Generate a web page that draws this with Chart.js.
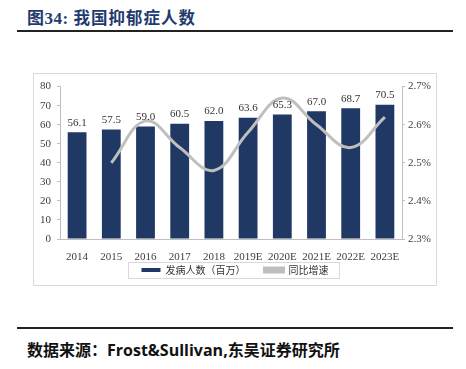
<!DOCTYPE html>
<html>
<head>
<meta charset="utf-8">
<script src="https://cdn.jsdelivr.net/npm/chart.js@4"></script>
<style>
  body { margin: 0; background: #fff; width: 466px; height: 369px; position: relative; overflow: hidden; }
  #title { position: absolute; left: 27px; top: 4px; font: bold 17px "Liberation Serif", "Noto Sans CJK SC", serif; color: #1f3a6e; letter-spacing: 0.5px; }
  #title .cn { font-family: "Noto Sans CJK SC", sans-serif; font-weight: bold; font-size: 16.5px; letter-spacing: 1px; }
  .rule { position: absolute; left: 17px; width: 436px; height: 2px; background: #222; }
  #frame { position: absolute; left: 33px; top: 73px; width: 404px; height: 213px; border: 1px solid #d9d9d9; box-sizing: border-box; }
  #source { position: absolute; left: 27px; top: 337px; font: bold 16px "Noto Sans CJK SC", sans-serif; color: #111; }
  #source .en { font-family: "Open Sans", "Liberation Sans", sans-serif; }
</style>
</head>
<body>
<div id="title">图34: <span class="cn">我国抑郁症人数</span></div>
<div class="rule" style="top:30px"></div>
<div id="frame"><canvas id="c" width="402" height="211"></canvas></div>
<div class="rule" style="top:327px"></div>
<div id="source">数据来源：<span class="en">Frost&amp;Sullivan,</span>东吴证券研究所</div>
<script>
// 我国抑郁症人数（百万）及同比增速
const YEARS = ["2014", "2015", "2016", "2017", "2018", "2019E", "2020E", "2021E", "2022E", "2023E"];
const PATIENTS = [56.1, 57.5, 59.0, 60.5, 62.0, 63.6, 65.3, 67.0, 68.7, 70.5];
const GROWTH = [null, 2.50, 2.61, 2.54, 2.48, 2.58, 2.67, 2.60, 2.54, 2.62];
const LEFT_TICKS = [0, 10, 20, 30, 40, 50, 60, 70, 80];
const RIGHT_TICKS = [2.3, 2.4, 2.5, 2.6, 2.7];

const NAVY = "#203864";
const GREY_LINE = "#bfbfbf";
const AXIS = "#bfbfbf";
const serif = "'Liberation Serif', 'Times New Roman', serif";

// value labels above bars (bar dataset is index 1)
const barLabels = {
  id: "barLabels",
  afterDatasetsDraw(chart) {
    const meta = chart.getDatasetMeta(1);
    const ctx = chart.ctx;
    ctx.save();
    ctx.font = "11px " + serif;
    ctx.fillStyle = "#333";
    ctx.textAlign = "center";
    ctx.textBaseline = "bottom";
    meta.data.forEach((bar, i) => {
      ctx.fillText(PATIENTS[i].toFixed(1), bar.x, bar.y - 4);
    });
    ctx.restore();
  },
};

// thin box round the legend
const legendBox = {
  id: "legendBox",
  afterDraw(chart) {
    const boxes = chart.legend.legendHitBoxes;
    if (!boxes || !boxes.length) return;
    const l = Math.min(...boxes.map((b) => b.left)) - 14;
    const r = Math.max(...boxes.map((b) => b.left + b.width)) + 10;
    const t = boxes[0].top - 3;
    const h = boxes[0].height + 6;
    const ctx = chart.ctx;
    ctx.save();
    ctx.strokeStyle = "#d9d9d9";
    ctx.lineWidth = 1;
    ctx.strokeRect(Math.round(l) + 0.5, Math.round(t) + 0.5, Math.round(r - l), Math.round(h));
    ctx.restore();
  },
};

new Chart(document.getElementById("c"), {
  data: {
    labels: YEARS,
    datasets: [
      {
        type: "line",
        label: "同比增速",
        data: GROWTH,
        yAxisID: "y1",
        borderColor: GREY_LINE,
        backgroundColor: GREY_LINE,
        borderWidth: 3,
        pointRadius: 0,
        tension: 0.4,
        order: 0,
      },
      {
        type: "bar",
        label: "发病人数（百万）",
        data: PATIENTS,
        yAxisID: "y",
        backgroundColor: NAVY,
        barPercentage: 0.55,
        categoryPercentage: 1,
        order: 1,
      },
    ],
  },
  options: {
    responsive: false,
    animation: false,
    layout: { padding: { top: 2, right: 0, left: 0, bottom: 0 } },
    plugins: {
      tooltip: { enabled: false },
      legend: {
        position: "bottom",
        reverse: true,
        labels: {
          boxWidth: 19,
          boxHeight: 4,
          padding: 4,
          color: "#333",
          font: { family: "'Noto Sans CJK SC', sans-serif", size: 10 },
          // widen the gap between the two entries
          generateLabels: (chart) =>
            Chart.defaults.plugins.legend.labels.generateLabels(chart).map((it) => {
              if (it.datasetIndex === 1) it.text = it.text + "　　";
              return it;
            }),
        },
      },
    },
    scales: {
      x: {
        grid: { display: false },
        border: { display: true, color: AXIS },
        ticks: { color: "#404040", font: { family: serif, size: 11 }, padding: 4, maxRotation: 0, autoSkip: false },
        afterFit: (s) => { s.height = 22; },
      },
      y: {
        position: "left",
        min: 0,
        max: 80,
        afterBuildTicks: (s) => { s.ticks = LEFT_TICKS.map((v) => ({ value: v })); },
        grid: { drawOnChartArea: false, drawTicks: true, tickLength: 3, color: AXIS },
        border: { display: true, color: AXIS },
        ticks: { color: "#404040", font: { family: serif, size: 11 }, padding: 6 },
        afterFit: (s) => { s.width = 26; },
      },
      y1: {
        position: "right",
        min: 2.3,
        max: 2.7,
        afterBuildTicks: (s) => { s.ticks = RIGHT_TICKS.map((v) => ({ value: v })); },
        grid: { drawOnChartArea: false, drawTicks: true, tickLength: 3, color: AXIS },
        border: { display: true, color: AXIS },
        ticks: { color: "#404040", font: { family: serif, size: 11 }, padding: 3, callback: (v) => v.toFixed(1) + "%" },
        afterFit: (s) => { s.width = 34; },
      },
    },
  },
  plugins: [barLabels, legendBox],
});
</script>
</body>
</html>
